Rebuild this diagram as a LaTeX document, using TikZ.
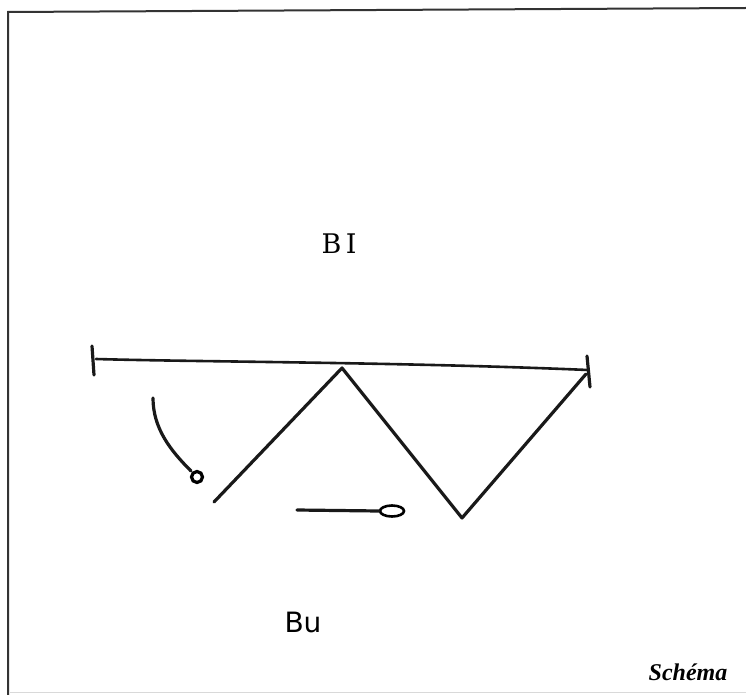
\documentclass[tikz,border=0pt]{standalone}
\usepackage{fontspec}
\usetikzlibrary{shapes.geometric}
\newfontfamily\schemafont{Liberation Serif}
\newfontfamily\handfont{DejaVu Sans}
\newfontfamily\handseriffont{DejaVu Serif}
\begin{document}
\begin{tikzpicture}[x=1pt,y=-1pt,
  pen/.style={line width=3.2pt,line cap=round,line join=round,black!90},
  frameline/.style={line width=2pt,black!80},
  hand/.style={font=\handfont\fontsize{28}{28}\selectfont,inner sep=0pt}]
\useasboundingbox (0,0) rectangle (746,695);
% frame
\coordinate (fTL) at (8,12);
\coordinate (fTR) at (746,8);
\coordinate (fBL) at (8,695);
\draw[frameline] (fBL) -- (fTL) -- (fTR);
\draw[line width=1pt,black!15] (10,692) -- (746,692);
% labels
\node[hand,font=\handseriffont\fontsize{27}{27}\selectfont] (BI) at (339,244) {B\,I};
\node[hand] (Bu) at (303,622) {Bu};
\node[font=\schemafont\bfseries\itshape\fontsize{24}{24}\selectfont,inner sep=0pt] (schema) at (688,672) {Schéma};
% beam with end ticks
\coordinate (tLtop) at (92,346);
\coordinate (tLbot) at (94,375);
\coordinate (tRtop) at (587,356);
\coordinate (tRbot) at (590,387);
\coordinate (bL) at (96,359);
\coordinate (bR) at (588,370);
\draw[pen] (tLtop) -- (tLbot);
\draw[pen] (tRtop) -- (tRbot);
\draw[pen,line width=2.6pt] (bL) .. controls (200,362) and (400,362) .. (bR);
% zigzag
\coordinate (z0) at (214,502);
\coordinate (z1) at (342,368);
\coordinate (z2) at (462,518);
\coordinate (z3) at (586,374);
\draw[pen] (z0) -- (z1) -- (z2) -- (z3);
% curved leader
\coordinate (c0) at (153,398);
\coordinate (c1) at (191,471);
\draw[pen] (c0) .. controls (153,428) and (170,450) .. (c1);
\node[draw,circle,line width=3.2pt,minimum size=11pt,inner sep=0pt] (cc) at (197,477) {};
% straight leader
\coordinate (s0) at (297,510);
\node[draw,ellipse,line width=2.6pt,minimum width=24pt,minimum height=11pt,inner sep=0pt] (se) at (392,511) {};
\draw[pen] (s0) -- (se.west);
\end{tikzpicture}
\end{document}
